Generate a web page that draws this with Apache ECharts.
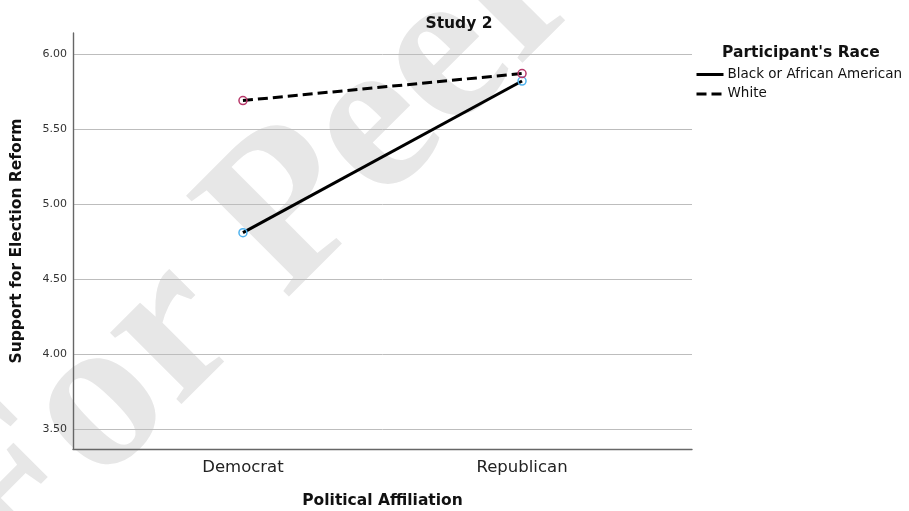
<!DOCTYPE html>
<html>
<head>
<meta charset="utf-8">
<script src="https://cdn.jsdelivr.net/npm/echarts@6/dist/echarts.min.js"></script>
<style>
  html, body { margin: 0; padding: 0; background: #fff; }
  #chart { width: 909px; height: 511px; }
</style>
</head>
<body>
<div id="chart"></div>
<script>
// Mean support for election reform by political affiliation and participant race
const categories = ['Democrat', 'Republican'];
const seriesNames = ['Black or African American', 'White'];
const blackValues = [4.81, 5.82];
const whiteValues = [5.69, 5.87];
const yTicks = [3.5, 4.0, 4.5, 5.0, 5.5, 6.0];

const FONT = '"DejaVu Sans", sans-serif';

function toPoints(values) {
  return categories.map((c, i) => [i, values[i]]);
}

const chart = echarts.init(document.getElementById('chart'), null, { renderer: 'canvas' });

chart.setOption({
  backgroundColor: '#ffffff',
  animation: false,
  title: [
    {
      text: 'Study 2',
      left: 459, top: 16, padding: 0, textAlign: 'center',
      textStyle: { fontFamily: FONT, fontSize: 15.5, fontWeight: 'bold', color: '#111' }
    },
    {
      text: "Participant's Race",
      left: 722, top: 44.5, padding: 0,
      textStyle: { fontFamily: FONT, fontSize: 15.5, fontWeight: 'bold', color: '#111' }
    }
  ],
  graphic: [
    {
      type: 'text',
      z: -10,
      silent: true,
      x: 517, y: -12,
      rotation: 45 * Math.PI / 180,
      style: {
        text: 'For Peer Review',
        font: 'bold 220px "Liberation Serif", serif',
        fill: '#e7e7e7',
        textAlign: 'center',
        textVerticalAlign: 'middle'
      }
    }
  ],
  legend: {
    orient: 'vertical',
    left: 695, top: 67.5, padding: 0,
    itemWidth: 27, itemHeight: 14, itemGap: 5.4,
    itemStyle: { opacity: 0 },
    lineStyle: { width: 3 },
    textStyle: { fontFamily: FONT, fontSize: 13.5, color: '#111', padding: [0, 0, 0, -1] },
    data: seriesNames
  },
  grid: { left: 73, right: 217, top: 33, bottom: 62, containLabel: false, outerBoundsMode: 'none' },
  xAxis: {
    type: 'value',
    min: -0.609, max: 1.609,
    name: 'Political Affiliation',
    nameLocation: 'middle',
    nameGap: 44,
    nameTextStyle: { fontFamily: FONT, fontSize: 15.5, fontWeight: 'bold', color: '#111' },
    axisLine: { show: true, onZero: false, lineStyle: { color: '#666', width: 1.4 } },
    axisTick: { show: false },
    splitLine: { show: false },
    axisLabel: {
      customValues: [0, 1],
      formatter: v => categories[Math.round(v)],
      fontFamily: FONT, fontSize: 16.5, color: '#222', margin: 10
    }
  },
  yAxis: {
    type: 'value',
    min: 3.369, max: 6.14,
    name: 'Support for Election Reform',
    nameLocation: 'middle',
    nameGap: 48,
    nameTextStyle: { fontFamily: FONT, fontSize: 15.5, fontWeight: 'bold', color: '#111' },
    axisLine: { show: true, onZero: false, lineStyle: { color: '#666', width: 1.4 } },
    axisTick: { show: false, customValues: yTicks },
    axisLabel: {
      customValues: yTicks,
      formatter: v => v.toFixed(2),
      fontFamily: FONT, fontSize: 11, color: '#333', margin: 6
    },
    splitLine: { show: true, lineStyle: { color: '#bdbdbd', width: 1 } }
  },
  series: [
    {
      name: seriesNames[0],
      type: 'line',
      data: toPoints(blackValues),
      symbol: 'circle', symbolSize: 8,
      lineStyle: { color: '#000', width: 3, type: 'solid' },
      itemStyle: { color: 'rgba(0,0,0,0)', borderColor: '#4fb2ee', borderWidth: 1.5 },
      z: 3
    },
    {
      name: seriesNames[1],
      type: 'line',
      data: toPoints(whiteValues),
      symbol: 'circle', symbolSize: 8,
      lineStyle: { color: '#000', width: 3, type: [10, 5] },
      itemStyle: { color: 'rgba(0,0,0,0)', borderColor: '#b8386a', borderWidth: 1.5 },
      z: 4
    }
  ]
});
</script>
</body>
</html>
